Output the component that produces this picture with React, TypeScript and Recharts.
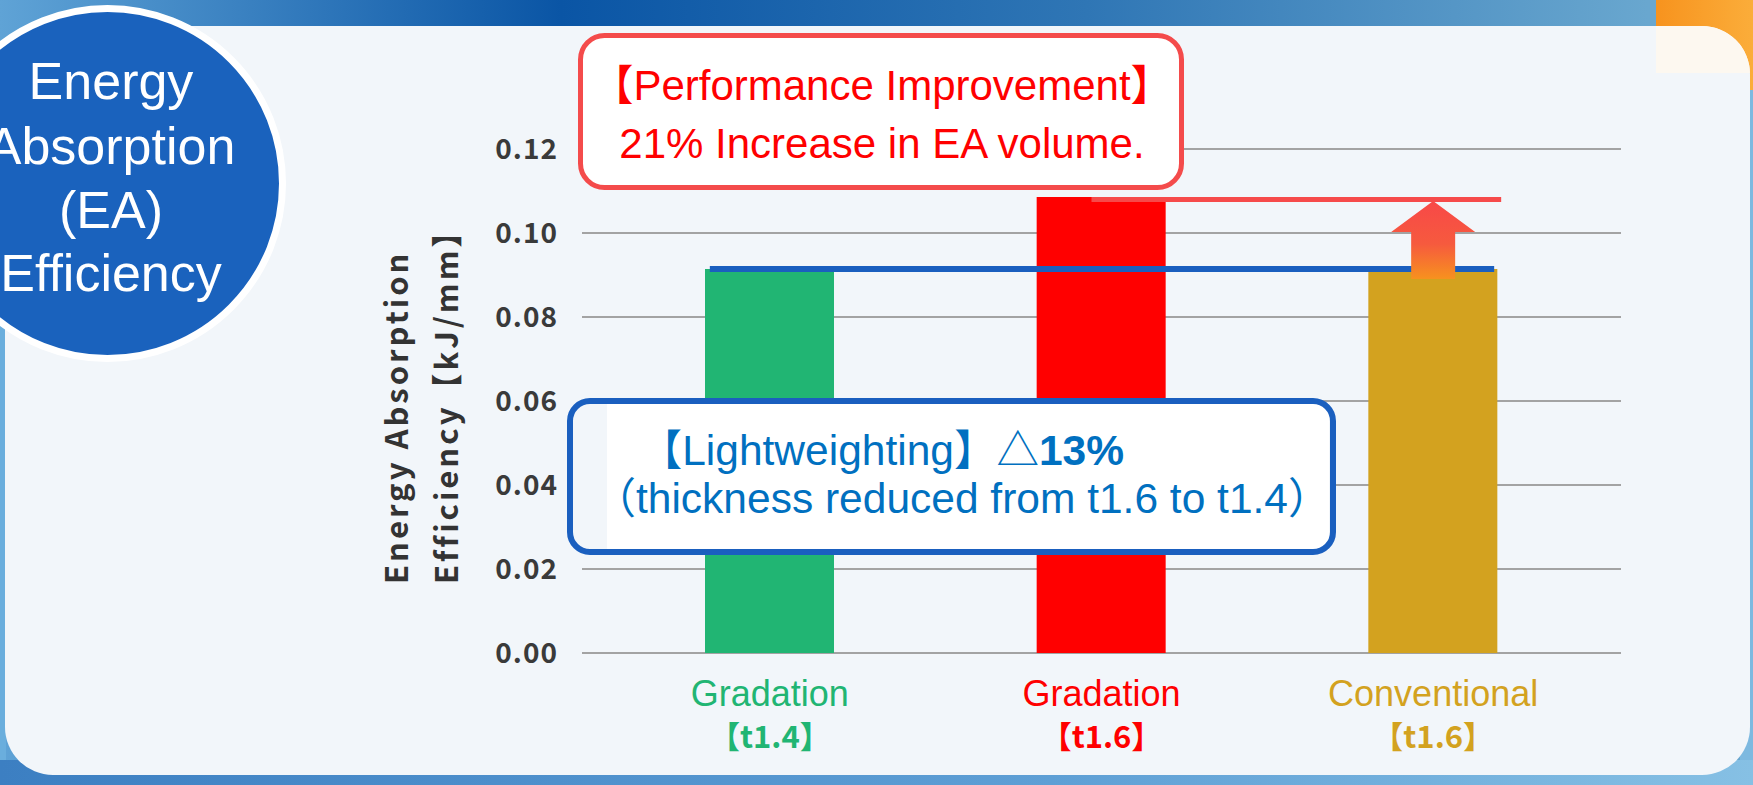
import { BarChart, Bar, Cell, XAxis, YAxis, CartesianGrid, ReferenceLine } from "recharts"

const categories = ["Gradation", "Gradation", "Conventional"]
const thickness = ["【t1.4】", "【t1.6】", "【t1.6】"]
const eaValues = [0.0914, 0.1086, 0.0914]
const yTicks = [0, 0.02, 0.04, 0.06, 0.08, 0.1, 0.12]

const barColors = ["#21b573", "#ff0000", "#d3a21f"]

const data = categories.map((c, i) => ({ key: c + thickness[i], value: eaValues[i] }))

const SANS = "'Liberation Sans', Arial, 'Noto Sans CJK JP', sans-serif"
const CJK = "'Noto Sans CJK JP', 'Noto Sans', sans-serif"

const XTick = (props: any) => {
  const { x, y, index } = props
  const color = barColors[index]
  return (
    <g>
      <text x={x} y={y + 45} textAnchor="middle" fill={color} fontFamily={SANS} fontSize={36}>
        {categories[index]}
      </text>
      <text x={x} y={y + 87} textAnchor="middle" fill={color} fontFamily={CJK} fontSize={31} fontWeight={700}>
        {thickness[index]}
      </text>
    </g>
  )
}

const YTitle = () => (
  <g fill="#333" fontFamily={CJK} fontWeight={700} fontSize={31} letterSpacing={3}>
    <text transform="translate(408,584) rotate(-90)">Energy Absorption</text>
    <text transform="translate(458,584) rotate(-90)">Efficiency【kJ/mm】</text>
  </g>
)

// level lines, stretched out to the bar edges
const BlueLevel = (p: any) => (
  <line x1={p.x1 - 60} x2={p.x2 + 61} y1={p.y1} y2={p.y2} stroke="#1a5fbf" strokeWidth={6} />
)
const RedLevel = (p: any) => (
  <line x1={p.x1 - 10} x2={p.x2 + 68} y1={p.y1 + 2.5} y2={p.y2 + 2.5} stroke="#f64a4a" strokeWidth={5} />
)
const UpArrow = (p: any) => {
  const cx = p.x1
  const tip = Math.min(p.y1, p.y2) + 4
  const bottom = Math.max(p.y1, p.y2) + 10
  const base = tip + 31
  const pts = [
    [cx, tip], [cx + 42, base], [cx + 22, base], [cx + 22, bottom],
    [cx - 22, bottom], [cx - 22, base], [cx - 42, base],
  ].map((q) => q.join(",")).join(" ")
  return (
    <g>
      <defs>
        <linearGradient id="arrowGrad" x1="0" y1="0" x2="0" y2="1">
          <stop offset="0%" stopColor="#f84848" />
          <stop offset="55%" stopColor="#f65a3e" />
          <stop offset="100%" stopColor="#f7921e" />
        </linearGradient>
      </defs>
      <polygon points={pts} fill="url(#arrowGrad)" />
    </g>
  )
}

const Backdrop = () => (
  <svg width={1753} height={785} style={{ position: "absolute", left: 0, top: 0 }}>
    <defs>
      <linearGradient id="topBand" x1="0" y1="0" x2="1" y2="0">
        <stop offset="0%" stopColor="#5fa3d6" />
        <stop offset="32%" stopColor="#0a55a5" />
        <stop offset="62%" stopColor="#2f76b5" />
        <stop offset="94%" stopColor="#69a7cf" />
      </linearGradient>
      <linearGradient id="bottomBand" x1="0" y1="0" x2="1" y2="0">
        <stop offset="0%" stopColor="#3c7fc2" />
        <stop offset="60%" stopColor="#5e9fd5" />
        <stop offset="100%" stopColor="#86c0e4" />
      </linearGradient>
      <linearGradient id="orange" x1="0" y1="0" x2="1" y2="0">
        <stop offset="0%" stopColor="#f7931e" />
        <stop offset="100%" stopColor="#fbad3a" />
      </linearGradient>
      <clipPath id="cardClip">
        <rect x={5} y={26} width={1745} height={749} rx={48} />
      </clipPath>
    </defs>
    <rect x={0} y={0} width={1753} height={785} fill="url(#topBand)" />
    <rect x={0} y={60} width={6} height={725} fill="#6aaedd" />
    <rect x={1740} y={60} width={13} height={725} fill="#7db9e0" />
    <rect x={0} y={760} width={1753} height={25} fill="url(#bottomBand)" />
    <rect x={1656} y={0} width={97} height={90} fill="url(#orange)" />
    <rect x={5} y={26} width={1745} height={749} rx={48} fill="#f2f6fa" />
    <rect x={1656} y={26} width={97} height={47} fill="#fdf8f0" clipPath="url(#cardClip)" />
    <circle cx={107.5} cy={183.5} r={175} fill="#1a62bd" stroke="#ffffff" strokeWidth={7} />
    <g fill="#ffffff" fontFamily={SANS} fontSize={52} textAnchor="middle">
      <text x={111} y={99}>Energy</text>
      <text x={111} y={164}>Absorption</text>
      <text x={111} y={228}>(EA)</text>
      <text x={111} y={291}>Efficiency</text>
    </g>
  </svg>
)

const Callouts = () => (
  <svg width={1753} height={785} style={{ position: "absolute", left: 0, top: 0, pointerEvents: "none" }}>
    <rect x={580.5} y={35.5} width={601} height={152} rx={24} fill="#ffffff" stroke="#f44b4b" strokeWidth={5} />
    <g fill="#ff0000" fontFamily={SANS} fontSize={42} textAnchor="middle">
      <text x={882} y={100}>【Performance Improvement】</text>
      <text x={882} y={158}>21% Increase in EA volume.</text>
    </g>
    <rect x={570} y={401} width={763} height={151} rx={20} fill="#f2f6fa" />
    <rect x={607} y={403} width={722} height={147} fill="#ffffff" />
    <rect x={570} y={401} width={763} height={151} rx={20} fill="none" stroke="#1a5fbf" strokeWidth={6} />
    <g fill="#0070c0" fontFamily={SANS} fontSize={42.5}>
      <text x={1124} y={465} textAnchor="end">
        <tspan>【Lightweighting】△</tspan>
        <tspan fontWeight={700}>13%</tspan>
      </text>
      <text x={962} y={513} textAnchor="middle">（thickness reduced from t1.6 to t1.4）</text>
    </g>
  </svg>
)

export default function App() {
  return (
    <div style={{ position: "absolute", left: 0, top: 0, width: 1753, height: 785, overflow: "hidden" }}>
      <Backdrop />
      <div style={{ position: "absolute", left: 0, top: 0 }}>
        <BarChart width={1753} height={785} data={data} margin={{ top: 149, right: 132, bottom: 32, left: 482 }}>
          <CartesianGrid vertical={false} stroke="#a3a3a3" strokeWidth={2} />
          <XAxis
            dataKey="key"
            allowDuplicatedCategory={false}
            axisLine={false}
            tickLine={false}
            height={100}
            padding={{ left: 22, right: 22 }}
            interval={0}
            tick={<XTick />}
          />
          <YAxis
            domain={[0, 0.12]}
            ticks={yTicks}
            width={100}
            axisLine={false}
            tickLine={false}
            tickMargin={18}
            tickFormatter={(v: number) => v.toFixed(2)}
            tick={{ fill: "#3a3a3a", fontFamily: CJK, fontWeight: 700, fontSize: 28, letterSpacing: 1 }}
            label={<YTitle />}
          />
          <Bar dataKey="value" barSize={129} isAnimationActive={false}>
            {data.map((d, i) => (
              <Cell key={d.key} fill={barColors[i]} />
            ))}
          </Bar>
          <ReferenceLine
            segment={[{ x: data[0].key, y: eaValues[0] }, { x: data[2].key, y: eaValues[0] }]}
            shape={BlueLevel}
          />
          <ReferenceLine
            segment={[{ x: data[1].key, y: eaValues[1] }, { x: data[2].key, y: eaValues[1] }]}
            shape={RedLevel}
          />
          <ReferenceLine
            segment={[{ x: data[2].key, y: eaValues[2] }, { x: data[2].key, y: eaValues[1] }]}
            shape={UpArrow}
          />
        </BarChart>
      </div>
      <Callouts />
    </div>
  )
}
